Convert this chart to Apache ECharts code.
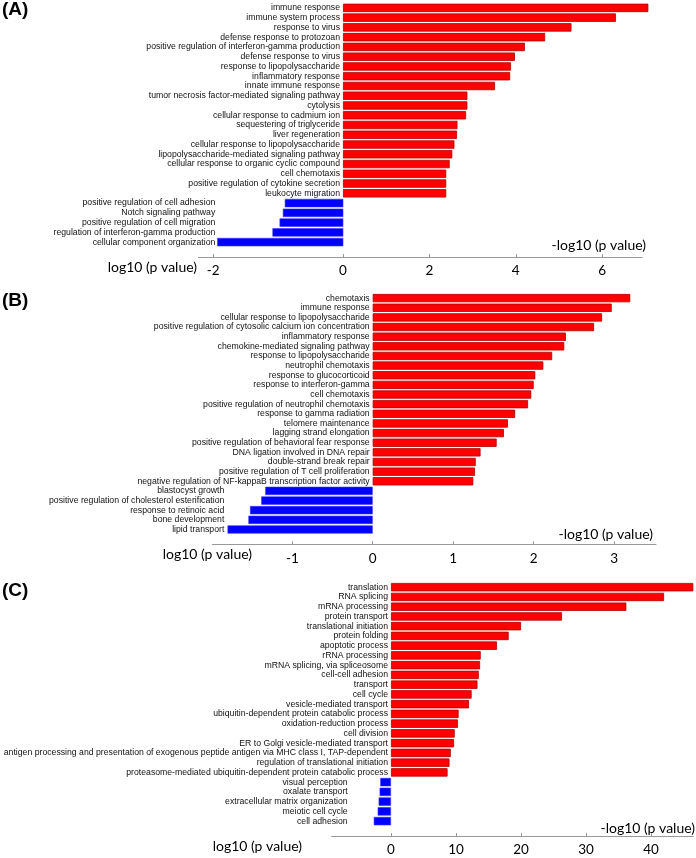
<!DOCTYPE html>
<html>
<head>
<meta charset="utf-8">
<script src="https://cdn.jsdelivr.net/npm/echarts@6/dist/echarts.min.js"></script>
<style>
  html, body { margin: 0; padding: 0; background: #fff; }
  #chart { width: 696px; height: 858px; }
</style>
</head>
<body>
<div id="chart"></div>
<script>
// ---- panel A ----
const termsAUp = [
  'immune response', 'immune system process', 'response to virus', 'defense response to protozoan',
  'positive regulation of interferon-gamma production', 'defense response to virus',
  'response to lipopolysaccharide', 'inflammatory response', 'innate immune response',
  'tumor necrosis factor-mediated signaling pathway', 'cytolysis', 'cellular response to cadmium ion',
  'sequestering of triglyceride', 'liver regeneration', 'cellular response to lipopolysaccharide',
  'lipopolysaccharide-mediated signaling pathway', 'cellular response to organic cyclic compound',
  'cell chemotaxis', 'positive regulation of cytokine secretion', 'leukocyte migration'
];
const valuesAUp = [7.07, 6.32, 5.29, 4.68, 4.21, 3.98, 3.89, 3.87, 3.52, 2.88, 2.88, 2.85, 2.65, 2.64, 2.58, 2.53, 2.47, 2.39, 2.39, 2.39];
const termsADown = [
  'positive regulation of cell adhesion', 'Notch signaling pathway', 'positive regulation of cell migration',
  'regulation of interferon-gamma production', 'cellular component organization'
];
const valuesADown = [-0.90, -0.93, -0.98, -1.09, -1.94];
const ticksAPos = [0, 2, 4, 6];
const ticksANeg = [-2];

// ---- panel B ----
const termsBUp = [
  'chemotaxis', 'immune response', 'cellular response to lipopolysaccharide',
  'positive regulation of cytosolic calcium ion concentration', 'inflammatory response',
  'chemokine-mediated signaling pathway', 'response to lipopolysaccharide', 'neutrophil chemotaxis',
  'response to glucocorticoid', 'response to interferon-gamma', 'cell chemotaxis',
  'positive regulation of neutrophil chemotaxis', 'response to gamma radiation', 'telomere maintenance',
  'lagging strand elongation', 'positive regulation of behavioral fear response',
  'DNA ligation involved in DNA repair', 'double-strand break repair',
  'positive regulation of T cell proliferation', 'negative regulation of NF-kappaB transcription factor activity'
];
const valuesBUp = [3.20, 2.97, 2.85, 2.75, 2.40, 2.38, 2.23, 2.12, 2.02, 2.00, 1.97, 1.93, 1.77, 1.68, 1.63, 1.54, 1.34, 1.28, 1.27, 1.25];
const termsBDown = [
  'blastocyst growth', 'positive regulation of cholesterol esterification', 'response to retinoic acid',
  'bone development', 'lipid transport'
];
const valuesBDown = [-1.34, -1.39, -1.53, -1.55, -1.81];
const ticksBPos = [0, 1, 2, 3];
const ticksBNeg = [-1];

// ---- panel C ----
const termsCUp = [
  'translation', 'RNA splicing', 'mRNA processing', 'protein transport', 'translational initiation',
  'protein folding', 'apoptotic process', 'rRNA processing', 'mRNA splicing, via spliceosome',
  'cell-cell adhesion', 'transport', 'cell cycle', 'vesicle-mediated transport',
  'ubiquitin-dependent protein catabolic process', 'oxidation-reduction process', 'cell division',
  'ER to Golgi vesicle-mediated transport',
  'antigen processing and presentation of exogenous peptide antigen via MHC class I, TAP-dependent',
  'regulation of translational initiation', 'proteasome-mediated ubiquitin-dependent protein catabolic process'
];
const valuesCUp = [46.5, 42.0, 36.2, 26.3, 20.0, 18.1, 16.3, 13.8, 13.7, 13.5, 13.3, 12.4, 12.0, 10.4, 10.3, 9.8, 9.7, 9.2, 9.0, 8.7];
const termsCDown = [
  'visual perception', 'oxalate transport', 'extracellular matrix organization', 'meiotic cell cycle', 'cell adhesion'
];
const valuesCDown = [-1.65, -1.75, -1.9, -2.05, -2.65];
const ticksCPos = [0, 10, 20, 30, 40];
const ticksCNeg = [];

const RED = '#ff0000';
const BLUE = '#0000ff';
const AXIS_FONT = 'Lato, "Open Sans", sans-serif';
const LABEL_FONT = '"Liberation Sans", Arial, sans-serif';

// 每个面板: 右边 (正值) 和左边 (负值) 两个 grid
const panels = [
  { up: termsAUp, upV: valuesAUp, down: termsADown, downV: valuesADown, posTicks: ticksAPos, negTicks: ticksANeg,
    top: 3, height: 244, posLeft: 343, posWidth: 299.3, posMax: 6.93, negLeft: 198.3, negWidth: 145, negMin: -2.23, negMargin: -17 },
  { up: termsBUp, upV: valuesBUp, down: termsBDown, downV: valuesBDown, posTicks: ticksBPos, negTicks: ticksBNeg,
    top: 293.3, height: 241, posLeft: 372.7, posWidth: 283.3, posMax: 3.52, negLeft: 212.3, negWidth: 160.4, negMin: -2.0, negMargin: -12 },
  { up: termsCUp, upV: valuesCUp, down: termsCDown, downV: valuesCDown, posTicks: ticksCPos, negTicks: ticksCNeg,
    top: 582.3, height: 243.7, posLeft: 391, posWidth: 302.3, posMax: 46.5, negLeft: 331.7, negWidth: 59.3, negMin: -9.12, negMargin: -16 }
];

const grid = [], xAxis = [], yAxis = [], series = [];

panels.forEach((p) => {
  const cats = p.up.concat(p.down);
  const nUp = p.up.length;

  // 正值 grid
  const gi = grid.length;
  grid.push({ left: p.posLeft, top: p.top, width: p.posWidth, height: p.height, containLabel: false, outerBoundsMode: 'none' });
  xAxis.push({
    type: 'value', gridIndex: gi, min: 0, max: p.posMax, offset: 10,
    splitLine: { show: false },
    axisLine: { show: true, lineStyle: { color: '#999', width: 1 } },
    axisTick: { show: true, inside: true, length: 3, lineStyle: { color: '#999' }, customValues: p.posTicks },
    axisLabel: { customValues: p.posTicks, margin: 7, color: '#000', fontFamily: AXIS_FONT, fontSize: 13.5 }
  });
  yAxis.push({
    type: 'category', gridIndex: gi, inverse: true, data: cats,
    axisLine: { show: false }, axisTick: { show: false },
    axisLabel: {
      margin: 3, color: '#111', fontFamily: LABEL_FONT, fontSize: 8.7, interval: 0,
      formatter: (v, i) => (i < nUp ? v : '')
    }
  });
  series.push({
    type: 'bar', xAxisIndex: gi, yAxisIndex: gi, clip: false, barCategoryGap: '14%',
    itemStyle: { color: RED, borderColor: '#b00000', borderWidth: 0.8 },
    data: p.upV.concat(p.down.map(() => '-'))
  });

  // 负值 grid
  const gj = grid.length;
  grid.push({ left: p.negLeft, top: p.top, width: p.negWidth, height: p.height, containLabel: false, outerBoundsMode: 'none' });
  xAxis.push({
    type: 'value', gridIndex: gj, min: p.negMin, max: 0, offset: 10,
    splitLine: { show: false },
    axisLine: { show: true, lineStyle: { color: '#999', width: 1 } },
    axisTick: { show: true, inside: true, length: 3, lineStyle: { color: '#999' }, customValues: p.negTicks.concat([0]) },
    axisLabel: { show: p.negTicks.length > 0, customValues: p.negTicks, margin: 7, color: '#000', fontFamily: AXIS_FONT, fontSize: 13.5 }
  });
  yAxis.push({
    type: 'category', gridIndex: gj, inverse: true, data: cats,
    axisLine: { show: false }, axisTick: { show: false },
    axisLabel: {
      margin: p.negMargin, color: '#111', fontFamily: LABEL_FONT, fontSize: 8.7, interval: 0,
      formatter: (v, i) => (i >= nUp ? v : '')
    }
  });
  series.push({
    type: 'bar', xAxisIndex: gj, yAxisIndex: gj, clip: false, barCategoryGap: '14%',
    itemStyle: { color: BLUE, borderColor: '#3a3aff', borderWidth: 0.6 },
    data: p.up.map(() => '-').concat(p.downV)
  });
});

// 面板标题和轴名称
const txt = (text, x, y, align, font) => ({
  type: 'text', x: x, y: y,
  style: { text: text, font: font, fill: '#000', align: align, verticalAlign: 'middle' }
});
const letterFont = 'bold 19px "Liberation Sans", Arial, sans-serif';
const nameFont = '14px ' + AXIS_FONT;

const graphic = [
  txt('(A)', 2, 10, 'left', letterFont),
  txt('(B)', 2, 301, 'left', letterFont),
  txt('(C)', 2, 591, 'left', letterFont),
  txt('log10 (p value)', 197, 267, 'right', nameFont),
  txt('-log10 (p value)', 646, 245, 'right', nameFont),
  txt('log10 (p value)', 252, 554, 'right', nameFont),
  txt('-log10 (p value)', 653, 534, 'right', nameFont),
  txt('log10 (p value)', 302, 846, 'right', nameFont),
  txt('-log10 (p value)', 695, 828, 'right', nameFont)
];

const chart = echarts.init(document.getElementById('chart'));
chart.setOption({
  backgroundColor: '#fff',
  animation: false,
  grid: grid,
  xAxis: xAxis,
  yAxis: yAxis,
  series: series,
  graphic: graphic
});
</script>
</body>
</html>
